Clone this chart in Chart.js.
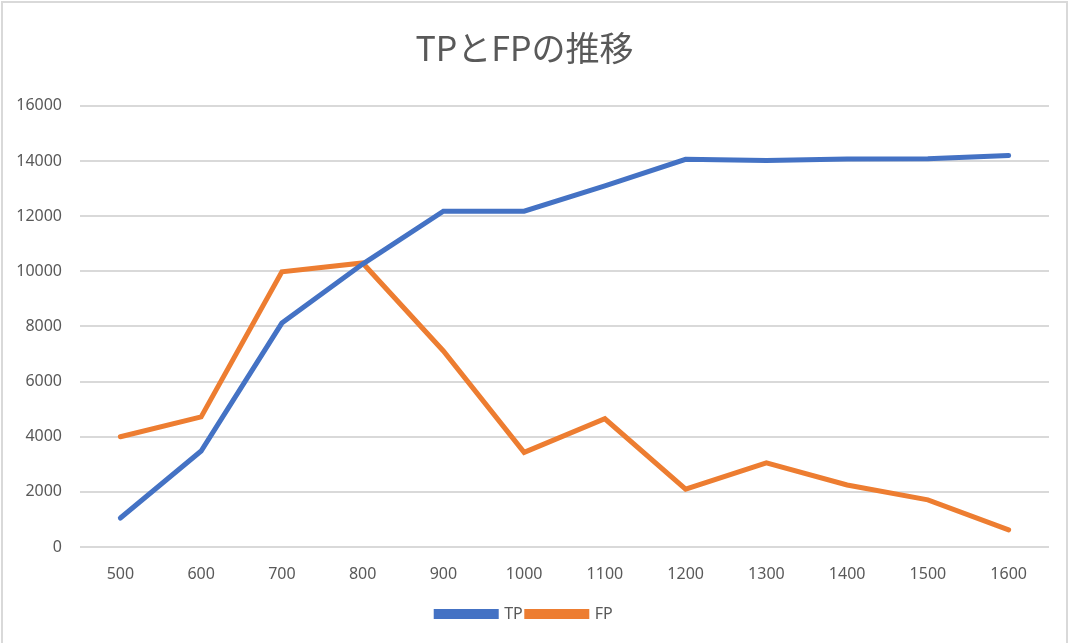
<!DOCTYPE html>
<html>
<head>
<meta charset="utf-8">
<script src="https://cdn.jsdelivr.net/npm/chart.js@4/dist/chart.umd.min.js"></script>
<style>
  body { margin: 0; background: #fff; }
  #wrap { position: absolute; left: 0; top: 0; width: 1072px; height: 643px; }
  #frame { position: absolute; left: 1px; top: 1px; width: 1063px; height: 660px;
           border: 2px solid #d9d9d9; pointer-events: none; }
</style>
</head>
<body>
<div id="wrap"><canvas id="chartCanvas"></canvas></div>
<div id="frame"></div>
<script>
const categories = ["500", "600", "700", "800", "900", "1000", "1100", "1200", "1300", "1400", "1500", "1600"];
const tpValues = [1050, 3480, 8120, 10260, 12180, 12180, 13100, 14060, 14020, 14070, 14080, 14200];
const fpValues = [4000, 4720, 9980, 10300, 7110, 3430, 4650, 2100, 3050, 2250, 1710, 620];
const yTicks = [0, 2000, 4000, 6000, 8000, 10000, 12000, 14000, 16000];

const textColor = "#595959";
const gridColor = "#d9d9d9";

new Chart(document.getElementById("chartCanvas"), {
  type: "line",
  data: {
    labels: categories,
    datasets: [
      {
        label: "TP",
        data: tpValues,
        borderColor: "#4472c4",
        backgroundColor: "#4472c4",
        borderWidth: 5,
        pointRadius: 0,
        tension: 0,
        borderCapStyle: "round",
      },
      {
        label: "FP",
        data: fpValues,
        borderColor: "#ed7d31",
        backgroundColor: "#ed7d31",
        borderWidth: 5,
        pointRadius: 0,
        tension: 0,
        borderCapStyle: "round",
      },
    ],
  },
  options: {
    responsive: true,
    maintainAspectRatio: false,
    animation: false,
    layout: { padding: { left: 0, right: 23, top: 0, bottom: 11 } },
    plugins: {
      title: {
        display: true,
        text: "TPとFPの推移",
        color: textColor,
        font: { family: "'Noto Sans CJK JP', 'Noto Sans'", size: 34, weight: "normal" },
        padding: { top: 28, bottom: 37 },
      },
      legend: {
        position: "bottom",
        labels: {
          color: textColor,
          boxWidth: 60,
          boxHeight: 5,
          padding: 4,
          font: { family: "'Noto Sans'", size: 16 },
        },
      },
      tooltip: { enabled: false },
    },
    scales: {
      x: {
        offset: true,
        grid: { display: false, drawTicks: false },
        border: { display: false },
        ticks: { color: textColor, padding: 18, font: { family: "'Noto Sans'", size: 16 } },
        afterFit: (scale) => { scale.height = 55; },
      },
      y: {
        min: 0,
        max: 16000,
        afterBuildTicks: (scale) => { scale.ticks = yTicks.map((v) => ({ value: v })); },
        grid: { color: gridColor, lineWidth: 2, drawTicks: false },
        border: { display: false },
        ticks: {
          color: textColor,
          padding: 18,
          font: { family: "'Noto Sans'", size: 16 },
          callback: (value) => String(value),
        },
        afterFit: (scale) => { scale.width = 80; },
      },
    },
  },
});
</script>
</body>
</html>
